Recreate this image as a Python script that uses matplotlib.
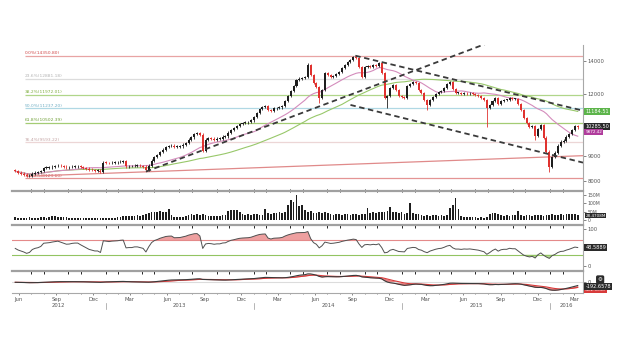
import numpy as np
import pandas as pd
import matplotlib
matplotlib.use("Agg")
import matplotlib.pyplot as plt
import matplotlib.dates as mdates
import matplotlib.transforms as mtrans

# weekly closes (Jun 2012 - Mar 2016)
closes = [
    8390, 8336, 8300, 8260, 8200, 8222, 8300, 8336, 8355, 8395,
    8520, 8531, 8545, 8571, 8590, 8611, 8590, 8571, 8545, 8550,
    8571, 8580, 8580, 8550, 8520, 8490, 8453, 8435, 8414, 8414,
    8375, 8731, 8720, 8710, 8731, 8742, 8750, 8771, 8783, 8580,
    8590, 8590, 8611, 8611, 8590, 8571, 8453, 8611, 8812, 8955,
    9040, 9165, 9271, 9380, 9430, 9444, 9388, 9401, 9414, 9488,
    9562, 9710, 9823, 9983, 10015, 9937, 9228, 9710, 9778, 9755,
    9710, 9755, 9755, 9846, 9870, 10030, 10170, 10250, 10360, 10456,
    10504, 10530, 10553, 10626, 10800, 11000, 11207, 11311, 11364, 11155,
    11104, 11233, 11259, 11285, 11364, 11629, 11900, 12180, 12465, 12817,
    12900, 12930, 12997, 13742, 13118, 12640, 12408, 11792, 12236, 13240,
    13118, 12997, 13060, 13180, 13305, 13553, 13742, 13935, 14065, 14250,
    14197, 13615, 12997, 13615, 13680, 13615, 13742, 13680, 13870, 13240,
    11792, 11900, 12350, 12523, 12236, 11900, 11846, 11792, 12465, 12581,
    12700, 12640, 12236, 12067, 11683, 11416, 11683, 11846, 12010, 12123,
    12180, 12350, 12581, 12700, 12294, 12067, 12067, 12010, 12067, 12040,
    12067, 12010, 11956, 11900, 11792, 11683, 11259, 11416, 11629, 11792,
    11470, 11629, 11683, 11683, 11792, 11737, 11737, 11470, 11155, 10750,
    10504, 10312, 10360, 9877, 10203, 10408, 9800, 9186, 8571, 8959,
    9144, 9444, 9621, 9665, 9846, 9983, 10170, 10360, 10285.5,
]
first_open = 8420
high_fix = {103: 13870, 119: 14350.8}
low_fix = {107: 11522, 131: 11250, 145: 11155, 166: 10312, 183: 9710, 188: 8375}

# weekly volume, millions
volumes = [
    18, 14, 12, 13, 14, 15, 13, 14, 12, 15, 16, 12, 20, 22, 21, 20, 18, 19, 17, 14, 13, 12,
    10, 9, 10, 11, 9, 10, 10, 11, 12, 10, 11, 10, 12, 11,
    18, 20, 22, 21, 24, 26, 22, 28, 25, 30,
    38, 44, 48, 46, 50, 52, 45, 48, 66,
    30, 18, 16, 20, 17, 22,
    28, 34, 30, 36, 32,
    38, 28, 24, 22, 26, 25, 23, 27, 29,
    55, 60, 62, 58, 50,
    33, 30, 36, 28, 34, 37, 32, 30,
    67, 40,
    38, 44, 40, 48, 42, 46,
    90,
    118, 105, 150, 80, 86, 62,
    48, 52, 40, 44,
    45, 42, 46, 40,
    38, 32, 34, 36, 30, 33, 35, 31, 37, 34, 30, 36, 35,
    71,
    44, 48, 42, 46, 50, 45, 52,
    79,
    50, 45, 40, 47, 38, 44,
    99,
    40, 36, 38,
    28, 26, 30, 25, 27, 29, 24, 28, 26, 30,
    71, 90, 131, 67,
    22, 18, 20, 16, 19, 17,
    14, 16, 13, 15,
    36, 42, 40, 34, 30,
    26, 28, 24, 27, 30, 52, 28, 25, 27, 29,
    26, 30, 28, 32, 25, 27, 29, 34, 31,
    32, 36, 30, 35, 33, 37, 34, 28.47,
]

fib_high = 14350.80
fib_low = 8123.60
fib_ratios = [0.0, 0.236, 0.382, 0.5, 0.618, 0.764, 1.0]
fib_line_colors = ["#e8a4a4", "#dcdcdc", "#b0d68a", "#b0d8e4", "#a4cc74", "#ecd6d6", "#e49494"]
fib_text_colors = ["#d04848", "#b4b4b4", "#80ae40", "#70aec4", "#70a036", "#c4a4a4", "#d04848"]

# trend lines (date, price)
support_line = [("2013-04-10", 8375), ("2015-07-25", 15150)]
upper_channel = [("2014-09-08", 14350), ("2016-03-22", 11116)]
lower_channel = [("2014-08-27", 11416), ("2016-03-22", 8732)]
red_line = [("2012-06-29", 8201), ("2016-03-22", 9018)]

green_label = "11184.51"
close_label = "10285.50"
vol_label = "28.4708M"
rsi_label = "48.5889"
macd_label = "-192.6578"

assert len(closes) == len(volumes)
dates = pd.date_range("2012-05-23", periods=len(closes), freq="7D")
c = np.array(closes, dtype=float)
o = np.concatenate([[first_open], c[:-1]])
hi = np.maximum(o, c) * 1.006
lo = np.minimum(o, c) * 0.994
for k, v in high_fix.items():
    hi[k] = v
for k, v in low_fix.items():
    lo[k] = v

s = pd.Series(c, index=dates)
ma_pink = s.rolling(20, min_periods=1).mean()
ma_green = s.rolling(50, min_periods=1).mean()

# RSI 14 (Wilder), seeded with equal average gain/loss
chg = np.diff(c, prepend=first_open)
avg_u = avg_d = np.mean(np.abs(chg[:14])) / 2
rsi_vals = []
for ch in chg:
    avg_u = (avg_u * 13 + max(ch, 0)) / 14
    avg_d = (avg_d * 13 + max(-ch, 0)) / 14
    rsi_vals.append(100 - 100 / (1 + avg_u / avg_d))
rsi = pd.Series(rsi_vals, index=dates)

# MACD 12/26/9
macd = s.ewm(span=12, adjust=False).mean() - s.ewm(span=26, adjust=False).mean()
signal = macd.ewm(span=9, adjust=False).mean()

W, H = 620, 355
fig = plt.figure(figsize=(W / 100, H / 100), dpi=100)
fig.patch.set_facecolor("white")


def ax_rect(top, bottom, left=12, right=583):
    return [left / W, 1 - bottom / H, (right - left) / W, (bottom - top) / H]


ax = fig.add_axes(ax_rect(45, 189))
axv = fig.add_axes(ax_rect(191, 225), sharex=ax)
axr = fig.add_axes(ax_rect(225, 271), sharex=ax)
axm = fig.add_axes(ax_rect(271, 293), sharex=ax)

x0 = pd.Timestamp("2012-05-15")
x1 = pd.Timestamp("2016-03-22")
spine_col = "#a8a8a8"
for a in (ax, axv, axr, axm):
    a.set_xlim(x0, x1)
    for sp in ("left", "top", "bottom"):
        a.spines[sp].set_visible(False)
    a.spines["right"].set_color(spine_col)
    a.spines["right"].set_linewidth(0.8)
    a.yaxis.tick_right()
    a.tick_params(axis="y", labelsize=3.8, length=2, width=0.5, colors="#555555", pad=1.5)
    a.tick_params(axis="x", bottom=False, labelbottom=False)
    a.set_facecolor("none")
for a in (axv, axr, axm):
    a.spines["top"].set_visible(True)
    a.spines["top"].set_color("#a0a0a0")
    a.spines["top"].set_linewidth(1.6)

# ---- price panel
ax.set_yscale("log")
ax.set_ylim(7724, 15082)
ax.set_yticks([8000, 9000, 12000, 14000])
ax.set_yticklabels(["8000", "9000", "12000", "14000"])
ax.yaxis.set_minor_locator(matplotlib.ticker.NullLocator())

fib_start = pd.Timestamp("2012-06-16")
for r, lc, tc in zip(fib_ratios, fib_line_colors, fib_text_colors):
    lvl = fib_high - r * (fib_high - fib_low)
    ax.hlines(lvl, fib_start, x1, color=lc, lw=0.9, zorder=1)
    ax.text(fib_start, lvl * 1.003, "%.1f%%(%.2f)" % (r * 100, lvl), fontsize=3.2,
            color=tc, va="bottom", ha="left", zorder=2)

ax.plot(pd.to_datetime([p[0] for p in red_line]), [p[1] for p in red_line],
        color="#e08a8a", lw=0.9, zorder=2)

ax.plot(dates, ma_green, color="#98c86a", lw=0.8, zorder=3)
ax.plot(dates, ma_pink, color="#d48cbc", lw=0.8, zorder=3)

bull = c >= o
col = np.where(bull, "#1e1e1e", "#e0322f")
ax.vlines(dates, lo, hi, colors=col, lw=0.6, zorder=4)
body_h = np.maximum(np.abs(c - o), c * 0.0025)
ax.bar(dates, body_h, bottom=np.minimum(o, c), width=5, color=col, lw=0, zorder=5)

for pts in (support_line, upper_channel, lower_channel):
    ax.plot(pd.to_datetime([p[0] for p in pts]), [p[1] for p in pts], color="#3a3a3a",
            lw=1.3, ls=(0, (3, 2)), zorder=6)

box_kw = dict(fontsize=3.6, color="white", ha="left", va="center", clip_on=False, zorder=10)
tr = ax.get_yaxis_transform()
ax.text(1.004, ma_green.iloc[-1], green_label, transform=tr,
        bbox=dict(boxstyle="square,pad=0.25", fc="#5cb44a", ec="none"), **box_kw)
ax.text(1.004, c[-1] * 1.005, close_label, transform=tr,
        bbox=dict(boxstyle="square,pad=0.25", fc="#2a2a2a", ec="none"), **box_kw)
ax.text(1.004, c[-1] * 0.978, "%.2f" % ma_pink.iloc[-1], transform=tr,
        bbox=dict(boxstyle="square,pad=0.2", fc="#b03c9c", ec="none"),
        **dict(box_kw, fontsize=3.0))

# ---- volume panel
axv.bar(dates, volumes, width=4.2, color="#1e1e1e", lw=0)
axv.set_ylim(-30, 172)
axv.set_yticks([0, 50, 100, 150])
axv.set_yticklabels(["0", "50M", "100M", "150M"])
axv.tick_params(axis="y", labelsize=3.3)
axv.text(1.004, 25, vol_label, transform=axv.get_yaxis_transform(),
         bbox=dict(boxstyle="square,pad=0.1", fc="#2a2a2a", ec="none"),
         **dict(box_kw, fontsize=3.0))

# ---- RSI panel
axr.axhline(70, color="#e48a8a", lw=0.8)
axr.axhline(30, color="#92c462", lw=0.8)
axr.fill_between(dates, rsi, 70, where=rsi > 70, color="#eea0a0", lw=0, interpolate=True)
axr.fill_between(dates, rsi, 30, where=rsi < 30, color="#b8dc98", lw=0, interpolate=True)
axr.plot(dates, rsi, color="#505050", lw=0.7)
axr.set_ylim(-14.6, 111.8)
axr.set_yticks([0, 100])
axr.set_yticklabels(["0", "100"])
axr.text(1.004, rsi.iloc[-1], rsi_label, transform=axr.get_yaxis_transform(),
         bbox=dict(boxstyle="square,pad=0.25", fc="#2a2a2a", ec="none"), **box_kw)

# ---- MACD panel
sc = np.abs(macd).max() / 8.4
axm.set_ylim(-10.7 * sc, 11.3 * sc)
axm.axhline(0, color="#dcdcdc", lw=0.8)
axm.fill_between(dates, macd, signal, color="#e88080", lw=0)
axm.plot(dates, signal, color="#d83a3a", lw=0.8)
axm.plot(dates, macd, color="#3a3a3a", lw=0.8)
axm.set_yticks([0])
axm.spines["bottom"].set_visible(True)
axm.spines["bottom"].set_color(spine_col)
axm.spines["bottom"].set_linewidth(0.8)
mtr = axm.get_yaxis_transform()
axm.text(1.004, -7.8 * sc, "%.4f" % signal.iloc[-1], transform=mtr,
         bbox=dict(boxstyle="square,pad=0.2", fc="#d83a3a", ec="none"),
         **dict(box_kw, fontsize=3.0))
axm.text(1.004, -4.2 * sc, macd_label, transform=mtr,
         bbox=dict(boxstyle="square,pad=0.25", fc="#2a2a2a", ec="none"), **box_kw)
axm.text(1.03, 2.8 * sc, "\u2699", transform=mtr, fontsize=4,
         color="white", ha="center", va="center", clip_on=False, zorder=11,
         bbox=dict(boxstyle="round,pad=0.3", fc="#2a2a2a", ec="none"))

# x axis: quarter month labels, monthly minor ticks, years below
axm.xaxis.set_major_locator(mdates.MonthLocator(bymonth=[3, 6, 9, 12]))
axm.xaxis.set_major_formatter(mdates.DateFormatter("%b"))
axm.xaxis.set_minor_locator(mdates.MonthLocator())
axm.tick_params(axis="x", which="both", bottom=True, labelbottom=True, labelsize=3.8,
                colors="#555555", length=1.5, width=0.5, pad=1.5)
axm.tick_params(axis="x", which="minor", length=1.0)

btr = mtrans.blended_transform_factory(axm.transData, axm.transAxes)
years = [2012, 2013, 2014, 2015, 2016]
for yr in years:
    a_ = max(pd.Timestamp("%d-01-01" % yr), x0)
    b_ = min(pd.Timestamp("%d-01-01" % (yr + 1)), x1)
    mid = a_ + (b_ - a_) / 2
    axm.text(mid, -0.58, str(yr), transform=btr, fontsize=3.8, color="#555555",
             ha="center", va="center", clip_on=False)
    if yr > 2012:
        axm.plot([a_, a_], [-0.45, -0.72], transform=btr, color="#999999", lw=0.5, clip_on=False)

fig.savefig("out.png", dpi=100, facecolor="white")
